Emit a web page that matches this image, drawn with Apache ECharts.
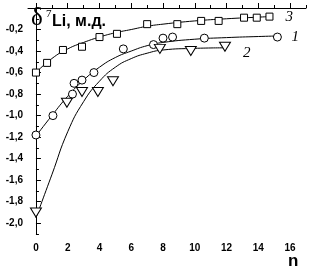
<!DOCTYPE html>
<html>
<head>
<meta charset="utf-8">
<script src="https://cdn.jsdelivr.net/npm/echarts@6/dist/echarts.min.js"></script>
<style>
  html, body { margin: 0; padding: 0; background: #fff; }
  #chart { width: 314px; height: 271px; }
</style>
</head>
<body>
<div id="chart"></div>
<script>
var sq3 = [[0, -0.6], [0.7, -0.51], [1.7, -0.39], [2.9, -0.36], [4.0, -0.27], [5.1, -0.24],
           [7.0, -0.15], [8.9, -0.15], [10.4, -0.12], [11.5, -0.12], [13.1, -0.09], [13.9, -0.09], [14.7, -0.08]];
var circ1 = [[0, -1.18], [1.07, -1.0], [2.3, -0.8], [2.4, -0.7], [2.9, -0.67], [3.65, -0.6],
             [5.5, -0.38], [7.4, -0.34], [8.0, -0.28], [8.6, -0.27], [10.6, -0.28], [15.2, -0.27]];
var tri2 = [[0, -1.9], [1.95, -0.88], [2.9, -0.78], [3.9, -0.78], [4.85, -0.68],
            [7.8, -0.38], [9.75, -0.4], [11.9, -0.36]];

// fitted curves
var fit3 = [[0, -0.6], [1, -0.47], [2, -0.38], [3, -0.32], [4, -0.27], [5, -0.23], [6, -0.2],
            [7, -0.17], [8, -0.15], [10, -0.12], [12, -0.1], [14, -0.085], [14.7, -0.08]];
var fit1 = [[0, -1.19], [1, -1.0], [2, -0.82], [3, -0.67], [4, -0.55], [5, -0.46], [6, -0.4],
            [7, -0.35], [8, -0.32], [10, -0.29], [12, -0.275], [14, -0.265], [15.2, -0.26]];
var fit2 = [[0, -1.95], [1, -1.55], [2, -1.15], [3, -0.87], [4, -0.68], [5, -0.55], [6, -0.47],
            [7, -0.42], [8, -0.39], [10, -0.375], [11.9, -0.37]];

var xLabels = [0, 2, 4, 6, 8, 10, 12, 14, 16];
var xMinor = [1, 3, 5, 7, 9, 11, 13, 15, 17];
var yLabels = [-0.2, -0.4, -0.6, -0.8, -1.0, -1.2, -1.4, -1.6, -1.8, -2.0];
var yMajor = [0, -0.2, -0.4, -0.6, -0.8, -1.0, -1.2, -1.4, -1.6, -1.8, -2.0];
var yMinor = [-0.1, -0.3, -0.5, -0.7, -0.9, -1.1, -1.3, -1.5, -1.7, -1.9, -2.1];

var sans = 'Liberation Sans, Arial, sans-serif';
var serif = 'Liberation Serif, Times New Roman, serif';
var lblFont = { color: '#000', fontFamily: sans, fontWeight: 'bold', fontSize: 10 };
var numFont = { fontFamily: serif, fontStyle: 'italic', fontSize: 15, color: '#000' };

function fmt(v) {
    return v.toFixed(1).replace('.', ',');
}

function curve(data, label, off) {
    return {
        type: 'line', data: data, smooth: true, showSymbol: false, xAxisIndex: 0, yAxisIndex: 0,
        lineStyle: { color: '#000', width: 1 }, z: 2, silent: true,
        endLabel: Object.assign({ show: true, formatter: label, offset: off }, numFont)
    };
}

function marks(data, symbol, size, rot) {
    return {
        type: 'scatter', data: data, symbol: symbol, symbolSize: size, symbolRotate: rot || 0,
        xAxisIndex: 0, yAxisIndex: 0, z: 3,
        itemStyle: { color: '#fff', borderColor: '#000', borderWidth: 1, opacity: 1 }
    };
}

var chart = echarts.init(document.getElementById('chart'));
chart.setOption({
    animation: false,
    grid: { left: 28, right: 8, top: 8, bottom: 37 },
    xAxis: [
        {
            type: 'value', min: -0.5, max: 17,
            axisLine: { lineStyle: { color: '#000', width: 1 } },
            axisTick: { inside: true, length: 5, customValues: xLabels, lineStyle: { color: '#000' } },
            axisLabel: Object.assign({ customValues: xLabels, margin: 9 }, lblFont),
            splitLine: { show: false }
        },
        {
            type: 'value', min: -0.5, max: 17, position: 'bottom',
            axisLine: { show: false },
            axisTick: { inside: true, length: 3, customValues: xMinor, lineStyle: { color: '#000' } },
            axisLabel: { show: false },
            splitLine: { show: false }
        }
    ],
    yAxis: [
        {
            type: 'value', min: -2.1, max: 0,
            axisLine: { lineStyle: { color: '#000', width: 1 } },
            axisTick: { inside: true, length: 5, customValues: yMajor, lineStyle: { color: '#000' } },
            axisLabel: Object.assign({ customValues: yLabels, margin: 5, formatter: fmt }, lblFont),
            splitLine: { show: false }
        },
        {
            type: 'value', min: -2.1, max: 0, position: 'left',
            axisLine: { show: false },
            axisTick: { inside: true, length: 3, customValues: yMinor, lineStyle: { color: '#000' } },
            axisLabel: { show: false },
            splitLine: { show: false }
        }
    ],
    graphic: [
        {
            type: 'text', left: 31, top: 6, z: 10,
            style: { text: 'δ', fontFamily: serif, fontSize: 25, fill: '#000' }
        },
        {
            type: 'text', left: 46, top: 9, z: 10,
            style: { text: '7', fontFamily: serif, fontSize: 11, fill: '#000' }
        },
        {
            type: 'text', left: 52, top: 14, z: 10,
            style: { text: 'Li, м.д.', fontFamily: sans, fontWeight: 'bold', fontSize: 16, fill: '#000' }
        },
        {
            type: 'text', left: 288, top: 253, z: 10,
            style: { text: 'n', fontFamily: sans, fontWeight: 'bold', fontSize: 17, fill: '#000' }
        }
    ],
    series: [
        curve(fit3, '3', [8, 0]),
        curve(fit1, '1', [6, 1]),
        curve(fit2, '2', [10, 5]),
        marks(sq3, 'rect', 7),
        marks(circ1, 'circle', 8),
        marks(tri2, 'triangle', [11, 9], 180)
    ]
});
</script>
</body>
</html>
